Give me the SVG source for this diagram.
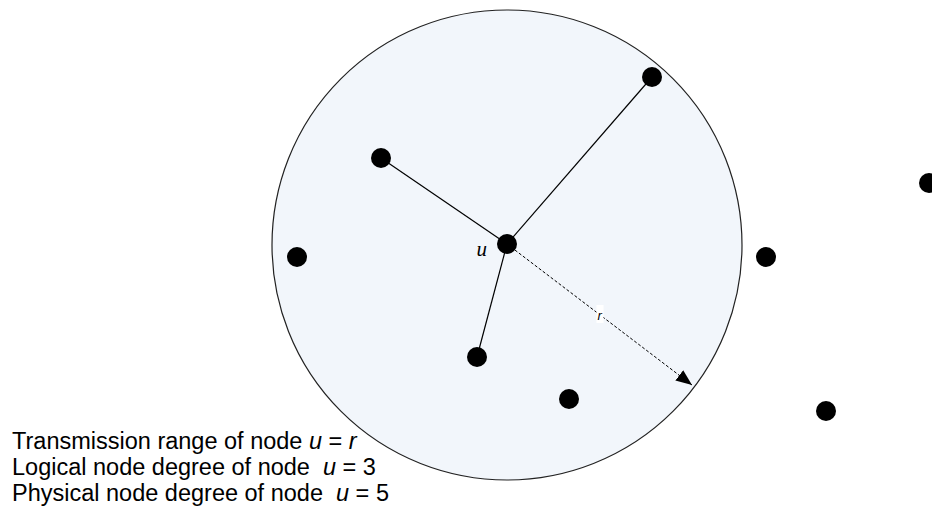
<svg xmlns="http://www.w3.org/2000/svg" width="932" height="513" viewBox="0 0 932 513">
<style>
.node{fill:#000}
.edge{stroke:#000;stroke-width:1.2;fill:none}
.dash{stroke:#000;stroke-width:1;stroke-dasharray:3 2;fill:none}
.cap{font-family:"Liberation Sans",Arial,sans-serif;font-size:23.5px;fill:#000}
.it{font-style:italic}
</style>
<defs>
<marker id="ah" markerUnits="userSpaceOnUse" markerWidth="17" markerHeight="13" refX="16" refY="6.5" orient="auto">
<path d="M0,0 L16,6.5 L0,13 Z" fill="#000"/>
</marker>
</defs>
<rect width="932" height="513" fill="#fff"/>
<g id="range">
<circle cx="507" cy="245" r="235" fill="#F2F6FB" stroke="#222" stroke-width="1.2"/>
</g>
<g id="connectors">
<line class="edge" x1="507" y1="244" x2="652" y2="77"/>
<line class="edge" x1="507" y1="244" x2="381" y2="158"/>
<line class="edge" x1="507" y1="244" x2="477" y2="357"/>
<line class="dash" x1="507" y1="244" x2="692" y2="385" marker-end="url(#ah)"/>
<g id="label-r">
<rect x="596.5" y="305" width="7" height="18" fill="#fff"/>
<text x="597.5" y="320" font-family="'Liberation Sans',Arial,sans-serif" font-size="13" font-style="italic">r</text>
</g>
</g>
<g id="node-u">
<circle class="node" cx="507" cy="244" r="10"/>
<text x="476.5" y="256" font-family="'Liberation Serif','Times New Roman',serif" font-size="21" font-style="italic">u</text>
</g>
<g id="node-1"><circle class="node" cx="652" cy="77" r="10"/></g>
<g id="node-2"><circle class="node" cx="381" cy="158" r="10"/></g>
<g id="node-3"><circle class="node" cx="297" cy="257" r="10"/></g>
<g id="node-4"><circle class="node" cx="766" cy="257" r="10"/></g>
<g id="node-5"><circle class="node" cx="477" cy="357" r="10"/></g>
<g id="node-6"><circle class="node" cx="569" cy="399" r="10"/></g>
<g id="node-7"><circle class="node" cx="826" cy="411" r="10"/></g>
<g id="node-8"><circle class="node" cx="929" cy="183" r="10"/></g>
<g id="legend">
<text class="cap" x="12" y="449" xml:space="preserve">Transmission range of node <tspan class="it">u</tspan> = <tspan class="it">r</tspan></text>
<text class="cap" x="12" y="475" xml:space="preserve">Logical node degree of node  <tspan class="it">u</tspan> = 3</text>
<text class="cap" x="12" y="501" xml:space="preserve">Physical node degree of node  <tspan class="it">u</tspan> = 5</text>
</g>
</svg>
